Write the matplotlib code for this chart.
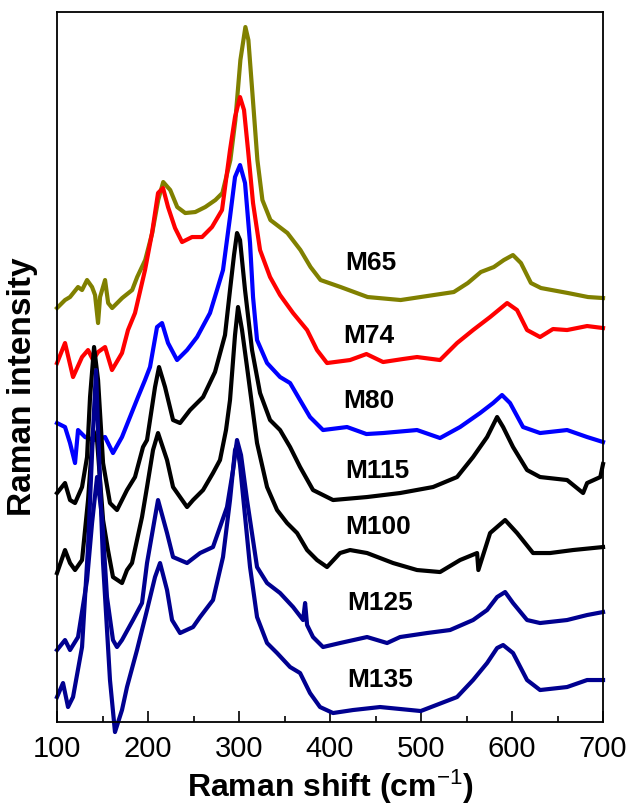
import matplotlib
matplotlib.use('Agg')
import matplotlib.pyplot as plt
from matplotlib.ticker import MultipleLocator

plt.rcParams['font.family'] = ['Liberation Sans', 'DejaVu Sans']
plt.rcParams['mathtext.fontset'] = 'custom'
plt.rcParams['mathtext.rm'] = 'Liberation Sans'
plt.rcParams['mathtext.it'] = 'Liberation Sans:italic'
plt.rcParams['mathtext.bf'] = 'Liberation Sans:bold'

# Raman spectra (shift in cm-1, intensity in arbitrary units, stacked)
m65_x = [100, 108.8, 114.3, 123.1, 127.5, 133, 138.5, 141.8, 145.1, 147.3, 152.8, 156.2, 160.6, 171.6,
         182.6, 188.1, 196.9, 204.6, 211.2, 216.7, 224.4, 232.1, 240.9, 251.9, 262.9, 274, 281.7, 290.5,
         296, 301.5, 307, 310.3, 314.7, 320.2, 325.7, 334.5, 353.2, 367.5, 378.6, 389.6, 411.6, 441.3,
         477.6, 514, 536, 551.4, 565.7, 580, 591, 601, 609.8, 620.8, 631.8, 661.5, 683.5, 700]
m65_y = [414, 422, 425, 435, 432, 442, 435, 427, 399, 425, 442, 419, 414, 424,
         432, 445, 462, 489, 522, 540, 532, 515, 509, 510, 515, 522, 529, 562,
         602, 662, 695, 682, 629, 562, 522, 502, 489, 472, 455, 442, 435, 425,
         422, 427, 430, 439, 450, 455, 462, 467, 459, 439, 434, 429, 425, 424]

m74_x = [100, 108.8, 117.6, 127.5, 134.1, 139.6, 145.1, 152.8, 160.4, 171.4, 178, 185.7, 196.7, 204.4,
         211, 216.5, 222, 229.7, 237.4, 248.4, 259.4, 270.3, 281.3, 290.1, 295.6, 301.1, 305.5, 309.9,
         315.4, 323.1, 334.1, 345.1, 359.4, 374.8, 385.7, 396.7, 422, 440, 458.3, 480, 495.6, 520.9,
         539.6, 557.2, 575.9, 594.6, 605.5, 616.5, 630.8, 645, 660.5, 682.5, 700]
m74_y = [359, 379, 345, 365, 372, 362, 370, 375, 352, 369, 392, 409, 452, 489,
         529, 534, 515, 494, 480, 485, 485, 495, 512, 572, 605, 625, 612, 572,
         519, 472, 445, 427, 409, 392, 372, 359, 362, 368, 360, 363, 365, 362,
         379, 392, 405, 419, 412, 392, 385, 393, 392, 396, 394]

m80_x = [100, 108.8, 114.3, 119.8, 123.1, 130.8, 140.7, 152.8, 161.5, 171.4, 189, 196.7, 202.2, 209.9,
         215.4, 222, 231.9, 242.9, 253.9, 268.1, 275.8, 282.4, 290.1, 295.6, 301.1, 306.6, 312.1, 315.4,
         319.8, 330.8, 345.1, 356.1, 367, 378, 392.3, 418.7, 440, 458.3, 495.6, 520.9, 542.9, 564.9,
         579.2, 589, 597.8, 612.1, 630.8, 660.5, 682.5, 700]
m80_y = [299, 295, 279, 259, 292, 285, 282, 285, 269, 285, 325, 342, 355, 395,
         399, 379, 362, 372, 385, 409, 432, 452, 505, 545, 557, 539, 479, 425,
         382, 359, 345, 339, 322, 305, 292, 295, 288, 289, 292, 284, 295, 309,
         319, 327, 319, 295, 289, 292, 285, 280]

m115_x = [100, 108.8, 114.3, 119.8, 127.5, 133, 136.3, 140.7, 145.1, 150.6, 158.2, 165.9, 176.9, 185.7,
          194.5, 198.9, 207.7, 212.1, 218.7, 227.5, 235.2, 246.2, 260.5, 273.6, 284.6, 290.1, 294.5,
          297.8, 301.1, 302.2, 306.6, 314.3, 323.1, 334.1, 345.1, 356.1, 367.1, 381.3, 403.3, 440.7,
          477, 513.2, 539.6, 557.2, 572.6, 583.6, 590.2, 601.1, 616.5, 630.8, 660.5, 678.1, 682.5, 697, 700]
m115_y = [229, 239, 222, 219, 235, 265, 325, 375, 342, 259, 219, 212, 232, 245,
          275, 282, 335, 355, 335, 302, 299, 312, 325, 350, 387, 432, 467,
          489, 482, 472, 432, 372, 329, 302, 292, 275, 255, 232, 222, 225,
          229, 235, 245, 265, 285, 305, 295, 275, 252, 245, 242, 229, 239, 245, 258]

m100_x = [100, 108.8, 114.3, 119.8, 127.5, 134.1, 139.6, 144, 150.6, 156, 161.5, 171.4, 176.9, 182.4,
          193.4, 198.9, 205.5, 211, 220.9, 227.5, 235.2, 242.9, 249.5, 260.5, 271.4, 279.1, 285.7,
          290.1, 295.6, 298.9, 303.3, 308.8, 319.8, 330.8, 341.8, 352.8, 363.8, 374.8, 385.7, 396.7,
          411, 422, 440.7, 469.3, 495.6, 520.9, 542.9, 561.6, 563, 575.9, 592.4, 605.5, 623.1, 641.8,
          667.1, 700]
m100_y = [149, 172, 159, 152, 162, 222, 292, 282, 202, 172, 145, 139, 152, 159,
          205, 235, 272, 289, 262, 235, 225, 215, 222, 232, 249, 262, 292,
          322, 387, 415, 392, 355, 279, 235, 212, 199, 189, 172, 162, 155,
          169, 172, 169, 159, 152, 150, 162, 169, 152, 189, 202, 189, 169, 169,
          172, 175]

m125_x = [100, 108.8, 114.3, 123.1, 133, 138.5, 144, 149.5, 154.9, 161.5, 165.9, 171.4, 183.5, 193.4,
          198.9, 207.7, 211, 220.9, 227.5, 242.9, 257.2, 271.4, 286.8, 293.4, 297.8, 302.2, 308.8,
          319.8, 330.8, 345.1, 359.4, 370.4, 372.6, 374.8, 381.3, 392.3, 411, 440.7, 462.7, 477,
          506.6, 531.9, 557.2, 572.6, 583.6, 592.4, 601.1, 616.5, 630.8, 660.5, 682.5, 700]
m125_y = [72, 82, 72, 85, 142, 199, 245, 205, 125, 82, 75, 82, 102, 119,
          159, 205, 222, 189, 165, 159, 169, 175, 215, 252, 282, 267, 222,
          155, 139, 129, 115, 102, 119, 97, 85, 75, 79, 85, 79, 85,
          89, 92, 102, 112, 125, 130, 119, 102, 99, 102, 107, 110]

m135_x = [100, 106.6, 112.1, 117.6, 127.5, 134.1, 139.6, 142.9, 145.1, 150.6, 158.2, 163.7, 171.4,
          176.9, 187.9, 198.9, 207.7, 213.2, 220.9, 226.4, 235.2, 249.5, 257.2, 271.4, 282.4, 290.1,
          295.6, 297.8, 301.1, 312.1, 319.8, 330.8, 341.8, 356.1, 367.1, 378, 389, 403.3, 425.3, 455,
          499.7, 539.6, 557.2, 572.6, 583.6, 590.2, 601.1, 616.5, 630.8, 660.5, 682.5, 700]
m135_y = [25, 39, 15, 25, 75, 175, 292, 352, 292, 159, 42, -10, 12,
          35, 72, 112, 145, 159, 132, 102, 89, 95, 105, 122, 165, 222,
          272, 277, 257, 155, 105, 79, 69, 55, 49, 29, 15, 9, 12, 15,
          11, 25, 42, 59, 74, 77, 69, 42, 32, 35, 42, 42]

names = ['M65', 'M74', 'M80', 'M115', 'M100', 'M125', 'M135']
colors = ['#808000', '#ff0000', '#0000ff', '#000000', '#000000', '#000090', '#000090']
label_x = [416.5, 414.3, 414.3, 416.5, 416.5, 418.7, 418.7]
label_y = [459, 386, 321, 251, 195, 119, 42]

xs = [m65_x, m74_x, m80_x, m115_x, m100_x, m125_x, m135_x]
ys = [m65_y, m74_y, m80_y, m115_y, m100_y, m125_y, m135_y]

fig = plt.figure(figsize=(6.3, 8.08), dpi=100)
ax = fig.add_axes([0.0905, 0.1064, 0.8667, 0.8787])

for x, y, c in zip(xs, ys, colors):
    ax.plot(x, y, color=c, lw=3, clip_on=False, solid_joinstyle='round')

for n, lx, ly in zip(names, label_x, label_y):
    ax.text(lx, ly, n, fontsize=19, fontweight='bold', ha='left', va='center')

ax.set_xlim(100, 700)
ax.set_ylim(0, 710)
ax.set_yticks([])
ax.xaxis.set_major_locator(MultipleLocator(100))
ax.xaxis.set_minor_locator(MultipleLocator(50))
ax.tick_params(axis='x', which='major', direction='in', length=8, width=1.2, labelsize=21, pad=9)
ax.tick_params(axis='x', which='minor', direction='in', length=4.5, width=1.2)
for s in ax.spines.values():
    s.set_linewidth(1.3)

ax.set_xlabel('Raman shift (cm$^{-1}$)', fontsize=23, fontweight='bold')
ax.set_ylabel('Raman intensity', fontsize=24, fontweight='bold')
ax.xaxis.set_label_coords(0.5, -0.064)
ax.yaxis.set_label_coords(-0.035, 0.472)

fig.savefig('out.png', dpi=100)
